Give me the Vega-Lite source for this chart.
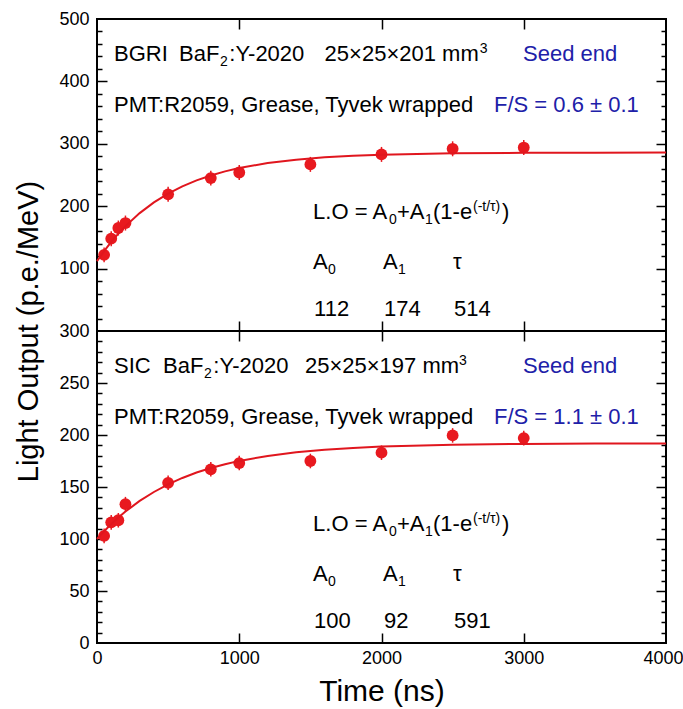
{
  "$schema": "https://vega.github.io/schema/vega-lite/v6.json",
  "padding": {"left": 13, "top": 9, "right": 0, "bottom": 0},
  "background": "white",
  "config": {
    "view": {"stroke": "black", "strokeWidth": 2},
    "font": "Liberation Sans",
    "axis": {"grid": false, "domain": false, "labelFont": "Liberation Sans", "titleFont": "Liberation Sans", "titleFontWeight": "normal", "labelColor": "black", "titleColor": "black", "tickColor": "black", "tickWidth": 1.5},
    "text": {"font": "Liberation Sans", "align": "left", "baseline": "alphabetic"}
  },
  "datasets": {
    "ptsTop": [
      {"t": 50, "v": 122, "lo": 110, "hi": 134},
      {"t": 100, "v": 148, "lo": 136, "hi": 160},
      {"t": 150, "v": 165, "lo": 153, "hi": 177},
      {"t": 200, "v": 173, "lo": 161, "hi": 185},
      {"t": 500, "v": 219, "lo": 207, "hi": 231},
      {"t": 800, "v": 245, "lo": 233, "hi": 257},
      {"t": 1000, "v": 254, "lo": 242, "hi": 266},
      {"t": 1500, "v": 267, "lo": 255, "hi": 279},
      {"t": 2000, "v": 283, "lo": 271, "hi": 295},
      {"t": 2500, "v": 292, "lo": 280, "hi": 304},
      {"t": 3000, "v": 294, "lo": 282, "hi": 306}
    ],
    "ptsBot": [
      {"t": 50, "v": 103, "lo": 96, "hi": 110},
      {"t": 100, "v": 116, "lo": 109, "hi": 123},
      {"t": 150, "v": 118, "lo": 111, "hi": 125},
      {"t": 200, "v": 133.5, "lo": 126.5, "hi": 140.5},
      {"t": 500, "v": 154, "lo": 147, "hi": 161},
      {"t": 800, "v": 167, "lo": 160, "hi": 174},
      {"t": 1000, "v": 173, "lo": 166, "hi": 180},
      {"t": 1500, "v": 175, "lo": 168, "hi": 182},
      {"t": 2000, "v": 183, "lo": 176, "hi": 190},
      {"t": 2500, "v": 199.6, "lo": 192.6, "hi": 206.6},
      {"t": 3000, "v": 197, "lo": 190, "hi": 204}
    ],
    "curveTop": [
      {"t": 0, "v": 112}, {"t": 50, "v": 128.1}, {"t": 100, "v": 142.8}, {"t": 150, "v": 156.0},
      {"t": 200, "v": 168.1}, {"t": 300, "v": 188.9}, {"t": 400, "v": 206.1}, {"t": 500, "v": 220.2},
      {"t": 600, "v": 231.9}, {"t": 700, "v": 241.4}, {"t": 800, "v": 249.3}, {"t": 900, "v": 255.8},
      {"t": 1000, "v": 261.1}, {"t": 1200, "v": 269.2}, {"t": 1400, "v": 274.6}, {"t": 1600, "v": 278.3},
      {"t": 1800, "v": 280.8}, {"t": 2000, "v": 282.4}, {"t": 2500, "v": 284.7}, {"t": 3000, "v": 285.5},
      {"t": 3500, "v": 285.8}, {"t": 4000, "v": 285.9}
    ],
    "curveBot": [
      {"t": 0, "v": 100}, {"t": 50, "v": 107.5}, {"t": 100, "v": 114.3}, {"t": 150, "v": 120.6},
      {"t": 200, "v": 126.4}, {"t": 300, "v": 136.6}, {"t": 400, "v": 145.2}, {"t": 500, "v": 152.5},
      {"t": 600, "v": 158.7}, {"t": 700, "v": 163.9}, {"t": 800, "v": 168.2}, {"t": 900, "v": 171.9},
      {"t": 1000, "v": 175.1}, {"t": 1200, "v": 179.9}, {"t": 1400, "v": 183.4}, {"t": 1600, "v": 185.9},
      {"t": 1800, "v": 187.6}, {"t": 2000, "v": 188.9}, {"t": 2500, "v": 190.7}, {"t": 3000, "v": 191.4},
      {"t": 3500, "v": 191.75}, {"t": 4000, "v": 191.9}
    ],
    "textTop": [
      {"t": 120, "v": 433, "s": "BGRI", "k": "n"},
      {"t": 577, "v": 433, "s": "BaF", "k": "n"},
      {"t": 930, "v": 433, "s": ":Y-2020", "k": "n"},
      {"t": 1600, "v": 433, "s": "25×25×201 mm", "k": "n"},
      {"t": 120, "v": 351, "s": "PMT:R2059, Grease, Tyvek wrapped", "k": "n"},
      {"t": 1519, "v": 179.5, "s": "L.O = A", "k": "n"},
      {"t": 2109, "v": 179.5, "s": "+A", "k": "n"},
      {"t": 2362, "v": 179.5, "s": "(1-e", "k": "n"},
      {"t": 2847, "v": 179.5, "s": ")", "k": "n"},
      {"t": 1519, "v": 99.4, "s": "A", "k": "n"},
      {"t": 2011, "v": 99.4, "s": "A", "k": "n"},
      {"t": 2503, "v": 99.4, "s": "τ", "k": "n"},
      {"t": 1526, "v": 24, "s": "112", "k": "n"},
      {"t": 2018, "v": 24, "s": "174", "k": "n"},
      {"t": 2510, "v": 24, "s": "514", "k": "n"},
      {"t": 2995, "v": 433, "s": "Seed end", "k": "b"},
      {"t": 2791, "v": 351, "s": "F/S = 0.6 ± 0.1", "k": "b"},
      {"t": 865, "v": 425, "s": "2", "k": "s"},
      {"t": 2690, "v": 445.5, "s": "3", "k": "s"},
      {"t": 2053, "v": 171.5, "s": "0", "k": "s"},
      {"t": 2306, "v": 171.5, "s": "1", "k": "s"},
      {"t": 2643, "v": 192.3, "s": "(-t/τ)", "k": "s"},
      {"t": 1624, "v": 91.3, "s": "0", "k": "s"},
      {"t": 2116, "v": 91.3, "s": "1", "k": "s"}
    ],
    "textBot": [
      {"t": 120, "v": 260, "s": "SIC", "k": "n"},
      {"t": 464, "v": 260, "s": "BaF", "k": "n"},
      {"t": 818, "v": 260, "s": ":Y-2020", "k": "n"},
      {"t": 1462, "v": 260, "s": "25×25×197 mm", "k": "n"},
      {"t": 120, "v": 210.8, "s": "PMT:R2059, Grease, Tyvek wrapped", "k": "n"},
      {"t": 1519, "v": 107.8, "s": "L.O = A", "k": "n"},
      {"t": 2109, "v": 107.8, "s": "+A", "k": "n"},
      {"t": 2362, "v": 107.8, "s": "(1-e", "k": "n"},
      {"t": 2847, "v": 107.8, "s": ")", "k": "n"},
      {"t": 1519, "v": 59.7, "s": "A", "k": "n"},
      {"t": 2011, "v": 59.7, "s": "A", "k": "n"},
      {"t": 2503, "v": 59.7, "s": "τ", "k": "n"},
      {"t": 1526, "v": 14.5, "s": "100", "k": "n"},
      {"t": 2018, "v": 14.5, "s": "92", "k": "n"},
      {"t": 2510, "v": 14.5, "s": "591", "k": "n"},
      {"t": 2995, "v": 260, "s": "Seed end", "k": "b"},
      {"t": 2791, "v": 210.8, "s": "F/S = 1.1 ± 0.1", "k": "b"},
      {"t": 752, "v": 255.2, "s": "2", "k": "s"},
      {"t": 2545, "v": 267.6, "s": "3", "k": "s"},
      {"t": 2053, "v": 103, "s": "0", "k": "s"},
      {"t": 2306, "v": 103, "s": "1", "k": "s"},
      {"t": 2643, "v": 115.5, "s": "(-t/τ)", "k": "s"},
      {"t": 1624, "v": 54.8, "s": "0", "k": "s"},
      {"t": 2116, "v": 54.8, "s": "1", "k": "s"}
    ]
  },
  "spacing": 0,
  "bounds": "flush",
  "vconcat": [
    {
      "width": 569,
      "height": 312,
      "resolve": {"scale": {"x": "shared", "y": "shared"}, "axis": {"x": "independent", "y": "independent"}},
      "layer": [
        {
          "data": {"name": "ptsTop"},
          "mark": {"type": "rule", "color": "#e8191f", "strokeWidth": 1.5},
          "encoding": {
            "x": {"field": "t", "type": "quantitative", "scale": {"domain": [0, 4000], "nice": false, "zero": false},
                  "axis": {"orient": "bottom", "values": [1000, 2000, 3000], "offset": -10, "tickSize": 10, "labels": false, "title": null}},
            "y": {"field": "lo", "type": "quantitative", "scale": {"domain": [0, 500], "nice": false},
                  "axis": {"orient": "left", "values": [100, 200, 300, 400, 500], "ticks": false, "tickSize": 0, "labelPadding": 8, "labelFontSize": 18, "title": null}},
            "y2": {"field": "hi"}
          }
        },
        {
          "data": {"name": "ptsTop"},
          "mark": {"type": "circle", "color": "#e8191f", "opacity": 1, "size": 140},
          "encoding": {
            "x": {"field": "t", "type": "quantitative", "scale": {"domain": [0, 4000], "nice": false, "zero": false},
                  "axis": {"orient": "top", "values": [1000, 2000, 3000], "offset": -10, "tickSize": 10, "labels": false, "title": null}},
            "y": {"field": "v", "type": "quantitative", "scale": {"domain": [0, 500], "nice": false},
                  "axis": {"orient": "left", "values": [100, 200, 300, 400], "offset": -10, "tickSize": 10, "labels": false, "title": null}}
          }
        },
        {
          "data": {"name": "curveTop"},
          "mark": {"type": "line", "color": "#e0161e", "strokeWidth": 2},
          "encoding": {
            "x": {"field": "t", "type": "quantitative", "scale": {"domain": [0, 4000], "nice": false, "zero": false}, "axis": null},
            "y": {"field": "v", "type": "quantitative", "scale": {"domain": [0, 500], "nice": false},
                  "axis": {"orient": "left", "values": [20, 40, 60, 80, 120, 140, 160, 180, 220, 240, 260, 280, 320, 340, 360, 380, 420, 440, 460, 480], "offset": -5, "tickSize": 5, "labels": false, "title": null}}
          }
        },
        {
          "data": {"name": "textTop"},
          "transform": [{"filter": "datum.k == 'n'"}],
          "mark": {"type": "text", "fontSize": 22, "color": "black"},
          "encoding": {
            "x": {"field": "t", "type": "quantitative", "scale": {"domain": [0, 4000], "nice": false, "zero": false}, "axis": null},
            "y": {"field": "v", "type": "quantitative", "scale": {"domain": [0, 500], "nice": false},
                  "axis": {"orient": "right", "values": [100, 200, 300, 400], "offset": -10, "tickSize": 10, "labels": false, "title": null}},
            "text": {"field": "s"}
          }
        },
        {
          "data": {"name": "textTop"},
          "transform": [{"filter": "datum.k == 'b'"}],
          "mark": {"type": "text", "fontSize": 22, "color": "#2020a8"},
          "encoding": {
            "x": {"field": "t", "type": "quantitative", "scale": {"domain": [0, 4000], "nice": false, "zero": false}, "axis": null},
            "y": {"field": "v", "type": "quantitative", "scale": {"domain": [0, 500], "nice": false},
                  "axis": {"orient": "right", "values": [20, 40, 60, 80, 120, 140, 160, 180, 220, 240, 260, 280, 320, 340, 360, 380, 420, 440, 460, 480], "offset": -5, "tickSize": 5, "labels": false, "title": null}},
            "text": {"field": "s"}
          }
        },
        {
          "data": {"name": "textTop"},
          "transform": [{"filter": "datum.k == 's'"}],
          "mark": {"type": "text", "fontSize": 14, "color": "black"},
          "encoding": {
            "x": {"field": "t", "type": "quantitative", "scale": {"domain": [0, 4000], "nice": false, "zero": false}, "axis": null},
            "y": {"field": "v", "type": "quantitative", "scale": {"domain": [0, 500], "nice": false}, "axis": null},
            "text": {"field": "s"}
          }
        }
      ]
    },
    {
      "width": 569,
      "height": 312,
      "resolve": {"scale": {"x": "shared", "y": "shared"}, "axis": {"x": "independent", "y": "independent"}},
      "layer": [
        {
          "data": {"name": "ptsBot"},
          "mark": {"type": "rule", "color": "#e8191f", "strokeWidth": 1.5},
          "encoding": {
            "x": {"field": "t", "type": "quantitative", "scale": {"domain": [0, 4000], "nice": false, "zero": false},
                  "axis": {"orient": "bottom", "values": [0, 1000, 2000, 3000], "format": "d", "ticks": false, "tickSize": 0, "labelPadding": 6, "labelFontSize": 18, "labelFlush": false, "labelOverlap": false, "title": "Time (ns)", "titleFontSize": 30, "titlePadding": 9}},
            "y": {"field": "lo", "type": "quantitative", "scale": {"domain": [0, 300], "nice": false},
                  "axis": {"orient": "left", "values": [0, 50, 100, 150, 200, 250, 300], "ticks": false, "tickSize": 0, "labelPadding": 8, "labelFontSize": 18, "title": "Light Output (p.e./MeV)", "titleFontSize": 29, "titlePadding": 15, "titleY": 0}},
            "y2": {"field": "hi"}
          }
        },
        {
          "data": {"name": "ptsBot"},
          "mark": {"type": "circle", "color": "#e8191f", "opacity": 1, "size": 140},
          "encoding": {
            "x": {"field": "t", "type": "quantitative", "scale": {"domain": [0, 4000], "nice": false, "zero": false},
                  "axis": {"orient": "top", "values": [1000, 2000, 3000], "offset": -10, "tickSize": 10, "labels": false, "title": null}},
            "y": {"field": "v", "type": "quantitative", "scale": {"domain": [0, 300], "nice": false},
                  "axis": {"orient": "left", "values": [50, 100, 150, 200, 250], "offset": -10, "tickSize": 10, "labels": false, "title": null}}
          }
        },
        {
          "data": {"name": "curveBot"},
          "mark": {"type": "line", "color": "#e0161e", "strokeWidth": 2},
          "encoding": {
            "x": {"field": "t", "type": "quantitative", "scale": {"domain": [0, 4000], "nice": false, "zero": false},
                  "axis": {"orient": "bottom", "values": [1000, 2000, 3000], "offset": -10, "tickSize": 10, "labels": false, "title": null}},
            "y": {"field": "v", "type": "quantitative", "scale": {"domain": [0, 300], "nice": false},
                  "axis": {"orient": "left", "values": [10, 20, 30, 40, 60, 70, 80, 90, 110, 120, 130, 140, 160, 170, 180, 190, 210, 220, 230, 240, 260, 270, 280, 290], "offset": -5, "tickSize": 5, "labels": false, "title": null}}
          }
        },
        {
          "data": {"name": "textBot"},
          "transform": [{"filter": "datum.k == 'n'"}],
          "mark": {"type": "text", "fontSize": 22, "color": "black"},
          "encoding": {
            "x": {"field": "t", "type": "quantitative", "scale": {"domain": [0, 4000], "nice": false, "zero": false},
                  "axis": {"orient": "bottom", "values": [4000], "format": "d", "ticks": false, "tickSize": 0, "labelPadding": 6, "labelFontSize": 18, "labelFlush": false, "labelOffset": -3, "title": null}},
            "y": {"field": "v", "type": "quantitative", "scale": {"domain": [0, 300], "nice": false},
                  "axis": {"orient": "right", "values": [50, 100, 150, 200, 250], "offset": -10, "tickSize": 10, "labels": false, "title": null}},
            "text": {"field": "s"}
          }
        },
        {
          "data": {"name": "textBot"},
          "transform": [{"filter": "datum.k == 'b'"}],
          "mark": {"type": "text", "fontSize": 22, "color": "#2020a8"},
          "encoding": {
            "x": {"field": "t", "type": "quantitative", "scale": {"domain": [0, 4000], "nice": false, "zero": false}, "axis": null},
            "y": {"field": "v", "type": "quantitative", "scale": {"domain": [0, 300], "nice": false},
                  "axis": {"orient": "right", "values": [10, 20, 30, 40, 60, 70, 80, 90, 110, 120, 130, 140, 160, 170, 180, 190, 210, 220, 230, 240, 260, 270, 280, 290], "offset": -5, "tickSize": 5, "labels": false, "title": null}},
            "text": {"field": "s"}
          }
        },
        {
          "data": {"name": "textBot"},
          "transform": [{"filter": "datum.k == 's'"}],
          "mark": {"type": "text", "fontSize": 14, "color": "black"},
          "encoding": {
            "x": {"field": "t", "type": "quantitative", "scale": {"domain": [0, 4000], "nice": false, "zero": false}, "axis": null},
            "y": {"field": "v", "type": "quantitative", "scale": {"domain": [0, 300], "nice": false}, "axis": null},
            "text": {"field": "s"}
          }
        }
      ]
    }
  ]
}
